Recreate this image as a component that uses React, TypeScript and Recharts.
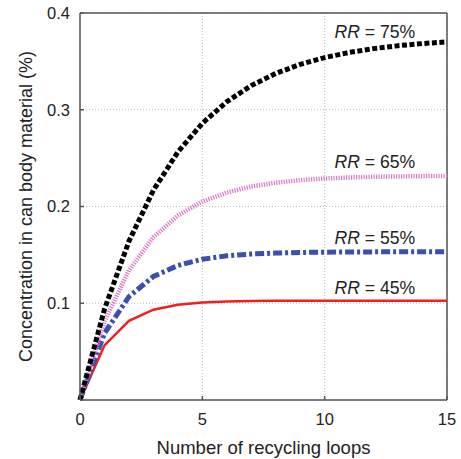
import React from "react";
import { LineChart, Line, XAxis, YAxis, CartesianGrid, ReferenceLine, ReferenceDot } from "recharts";

const loops = [0, 1, 2, 3, 4, 5, 6, 7, 8, 9, 10, 11, 12, 13, 14, 15];
const rr45 = [0, 0.0564, 0.0818, 0.0933, 0.0984, 0.1008, 0.1018, 0.1023, 0.1025, 0.1026, 0.1026, 0.1026, 0.1026, 0.1026, 0.1026, 0.1026];
const rr55 = [0, 0.069, 0.1068, 0.1277, 0.139, 0.1455, 0.149, 0.1509, 0.1519, 0.1525, 0.1528, 0.153, 0.1531, 0.1532, 0.1532, 0.1532];
const rr65 = [0, 0.0812, 0.134, 0.1683, 0.1906, 0.2051, 0.2145, 0.2207, 0.2246, 0.2272, 0.2289, 0.23, 0.2307, 0.2311, 0.2314, 0.2316];
const rr75 = [0, 0.0938, 0.1641, 0.2168, 0.2563, 0.286, 0.3083, 0.325, 0.3375, 0.3469, 0.3539, 0.3592, 0.3632, 0.3662, 0.3684, 0.3701];

const xTicks = [0, 5, 10, 15];
const yTicks = [0.1, 0.2, 0.3, 0.4];
const labelNames = ["75%", "65%", "55%", "45%"];
const labelY = [0.38, 0.246, 0.167, 0.116];
const labelX = 12.05;

const data = loops.map((n, i) => ({ n, rr45: rr45[i], rr55: rr55[i], rr65: rr65[i], rr75: rr75[i] }));

const FONT = "'Liberation Sans', Arial, sans-serif";
const TXT = "#222";
const AX = "#555";

const rrLabel = (pct: string) => (props: any) => {
  const vb = props.viewBox || {};
  const cx = vb.x + (vb.width || 0) / 2;
  const cy = vb.y + (vb.height || 0) / 2;
  return (
    <text x={cx} y={cy} textAnchor="middle" dominantBaseline="central" fontFamily={FONT} fontSize={17.6} fill={TXT}>
      <tspan fontStyle="italic">RR</tspan>
      <tspan>{` = ${pct}`}</tspan>
    </text>
  );
};

const yLabel = (props: any) => {
  const vb = props.viewBox || {};
  const cx = vb.x + 26;
  const cy = vb.y + vb.height / 2;
  return (
    <text x={cx} y={cy} transform={`rotate(-90, ${cx}, ${cy})`} textAnchor="middle" dominantBaseline="central" fontFamily={FONT} fontSize={18} fill={TXT}>
      Concentration in can body material (%)
    </text>
  );
};

const xLabel = (props: any) => {
  const vb = props.viewBox || {};
  const cx = vb.x + vb.width / 2;
  return (
    <text x={cx} y={447} textAnchor="middle" dominantBaseline="central" fontFamily={FONT} fontSize={18.5} fill={TXT}>
      Number of recycling loops
    </text>
  );
};

export default function App() {
  return (
    <div style={{ position: "absolute", left: 0, top: 0, background: "#fff" }}>
      <LineChart width={461} height={459} data={data} margin={{ top: 13, right: 14, bottom: 0, left: 0 }}>
        <CartesianGrid stroke="#bbb" strokeDasharray="1 2" />
        <XAxis
          dataKey="n"
          type="number"
          domain={[0, 15]}
          ticks={xTicks}
          height={59}
          axisLine={{ stroke: AX, strokeWidth: 1.5 }}
          tickLine={{ stroke: AX, strokeWidth: 1.5 }}
          tickSize={-4}
          tickMargin={17}
          tick={{ fontFamily: FONT, fontSize: 16.5, fill: TXT }}
          label={xLabel}
        />
        <YAxis
          type="number"
          domain={[0, 0.4]}
          ticks={yTicks}
          width={80}
          axisLine={{ stroke: AX, strokeWidth: 1.5 }}
          tickLine={{ stroke: AX, strokeWidth: 1.5 }}
          tickSize={-4}
          tickMargin={14}
          tick={{ fontFamily: FONT, fontSize: 16.5, fill: TXT }}
          label={yLabel}
        />
        <ReferenceLine y={0.4} stroke={AX} strokeWidth={1.5} />
        <ReferenceLine x={15} stroke={AX} strokeWidth={1.5} />
        <Line dataKey="rr45" type="linear" stroke="#f02020" strokeWidth={2.5} dot={false} isAnimationActive={false} />
        <Line dataKey="rr55" type="linear" stroke="#3a4fb0" strokeWidth={5} strokeDasharray="9 3 3 3" dot={false} isAnimationActive={false} />
        <Line dataKey="rr65" type="linear" stroke="#d878c8" strokeWidth={4.5} strokeDasharray="1.2 1.3" dot={false} isAnimationActive={false} />
        <Line dataKey="rr75" type="linear" stroke="#000" strokeWidth={5} strokeDasharray="5 2.5" dot={false} isAnimationActive={false} />
        {labelNames.map((p, i) => (
          <ReferenceDot key={p} x={labelX} y={labelY[i]} r={0} fill="none" stroke="none" label={rrLabel(p)} />
        ))}
      </LineChart>
    </div>
  );
}
